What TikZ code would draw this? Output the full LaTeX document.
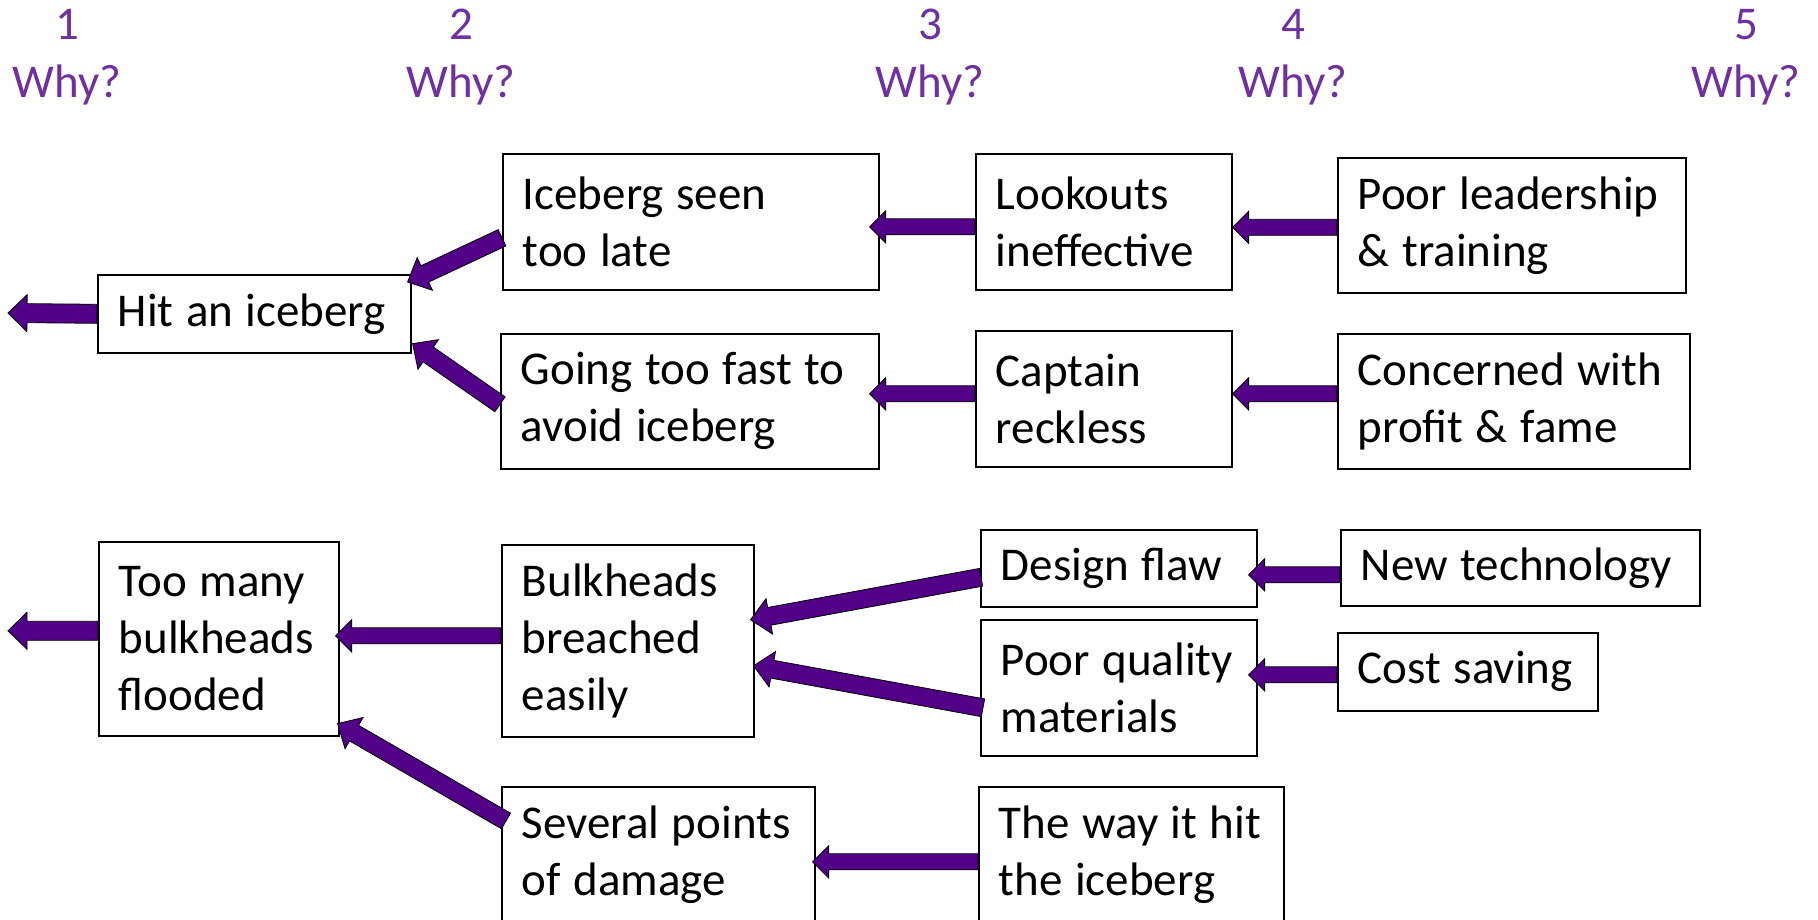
\documentclass[tikz,border=0pt]{standalone}
\usepackage{fontspec}
\setmainfont{Carlito}
\usetikzlibrary{calc}
\definecolor{whyc}{RGB}{112,48,160}
\definecolor{arrc}{RGB}{82,0,136}
% block arrow: #1 tail coord, #2 tip coord, #3 half shaft, #4 half head, #5 head length
\newcommand\blockarr[5]{%
  \coordinate (#1hb) at ($(#2)!#5!(#1)$);
  \filldraw[barr] ($(#1)!#3!90:(#2)$) -- ($(#1hb)!#3!90:(#2)$) -- ($(#1hb)!#4!90:(#2)$) -- (#2)
    -- ($(#1hb)!#4!-90:(#2)$) -- ($(#1hb)!#3!-90:(#2)$) -- ($(#1)!#3!-90:(#2)$) -- cycle;}
\newcommand\lin[1]{\mbox{\spaceskip=12.5pt\relax #1}}
\begin{document}
\begin{tikzpicture}[x=1pt,y=-1pt,
  box/.style={draw=black, line width=1.6pt, fill=white, rectangle, inner xsep=20pt, inner ysep=0pt,
    anchor=north west, align=left, font={\fontsize{47}{57}\selectfont}},
  hdr/.style={text=whyc, font=\fontsize{47}{57}\selectfont, inner sep=0pt, anchor=base},
  barr/.style={fill=arrc, draw=black, line width=0.8pt, line join=miter}]
\useasboundingbox (0,0) rectangle (1818,920);
\clip (0,0) rectangle (1818,920);
% headers
\node[hdr] (h1a) at (67,40) {1};   \node[hdr] (h1b) at (67,98) {Why?};
\node[hdr] (h2a) at (461,40) {2};  \node[hdr] (h2b) at (461,98) {Why?};
\node[hdr] (h3a) at (930,40) {3};  \node[hdr] (h3b) at (930,98) {Why?};
\node[hdr] (h4a) at (1293,40) {4}; \node[hdr] (h4b) at (1293,98) {Why?};
\node[hdr] (h5a) at (1746,40) {5}; \node[hdr] (h5b) at (1746,98) {Why?};
% boxes
\node[box, minimum width=313pt, minimum height=78pt, text width=273pt] (hit) at (97,274) {\lin{Hit an iceberg}};
\node[box, minimum width=376pt, minimum height=136pt, text width=336pt] (seen) at (502,153) {\lin{Iceberg seen}\\\lin{too late}};
\node[box, minimum width=378pt, minimum height=135pt, text width=338pt] (fast) at (500,333) {\lin{Going too fast to}\\\lin{avoid iceberg}};
\node[box, minimum width=256pt, minimum height=136pt, text width=216pt] (look) at (975,153) {\lin{Lookouts}\\\lin{ineffective}};
\node[box, minimum width=348pt, minimum height=135pt, text width=308pt] (lead) at (1337,157) {\lin{Poor leadership}\\\lin{\& training}};
\node[box, minimum width=256pt, minimum height=136pt, text width=216pt] (capt) at (975,330) {\lin{Captain}\\\lin{reckless}};
\node[box, minimum width=352pt, minimum height=135pt, text width=312pt] (conc) at (1337,333) {\lin{Concerned with}\\\lin{profit \& fame}};
\node[box, minimum width=240pt, minimum height=194pt, text width=200pt] (many) at (98,541) {\lin{Too many}\\\lin{bulkheads}\\\lin{flooded}};
\node[box, minimum width=252pt, minimum height=192pt, text width=212pt] (bulk) at (501,544) {\lin{Bulkheads}\\\lin{breached}\\\lin{easily}};
\node[box, minimum width=276pt, minimum height=77pt, text width=236pt] (desg) at (980,529) {\lin{Design flaw}};
\node[box, minimum width=276pt, minimum height=136pt, text width=236pt] (qual) at (980,619) {\lin{Poor quality}\\\lin{materials}};
\node[box, minimum width=359pt, minimum height=76pt, text width=319pt] (newt) at (1340,529) {\lin{New technology}};
\node[box, minimum width=260pt, minimum height=78pt, text width=220pt] (cost) at (1337,632) {\lin{Cost saving}};
\node[box, minimum width=313pt, minimum height=136pt, text width=273pt] (sev) at (501,786) {\lin{Several points}\\\lin{of damage}};
\node[box, minimum width=305pt, minimum height=136pt, text width=265pt] (way) at (978,786) {\lin{The way it hit}\\\lin{the iceberg}};
% arrow end points
\coordinate (t1) at (hit.west);                 \coordinate (p1) at (8,313);
\coordinate (t2) at ($(seen.west)+(0,16)$);     \coordinate (p2) at ($(hit.north east)+(-4,8)$);
\coordinate (t3) at ($(fast.west)+(0,3)$);      \coordinate (p3) at ($(hit.south east)+(1,-10)$);
\coordinate (t4) at ($(look.west)+(0,5)$);      \coordinate (p4) at ($(seen.east |- t4)+(-10,0)$);
\coordinate (t5) at ($(lead.west)+(0,2)$);      \coordinate (p5) at (look.east |- t5);
\coordinate (t6) at ($(capt.west)+(0,-5)$);     \coordinate (p6) at ($(fast.east |- t6)+(-10,0)$);
\coordinate (t7) at (conc.west |- t6);          \coordinate (p7) at (capt.east |- t7);
\coordinate (t8) at ($(many.west)+(0,-8)$);     \coordinate (p8) at (p1 |- t8);
\coordinate (t9) at ($(bulk.west)+(0,-5)$);     \coordinate (p9) at ($(many.east |- t9)+(-4,0)$);
\coordinate (t10) at ($(desg.west)+(1,9)$);     \coordinate (p10) at ($(bulk.east)+(-4,-21)$);
\coordinate (t11) at ($(qual.west)+(3,20)$);    \coordinate (p11) at ($(bulk.east)+(-1,25)$);
\coordinate (t12) at ($(newt.west)+(0,7)$);     \coordinate (p12) at ($(desg.east |- t12)+(-9,0)$);
\coordinate (t13) at ($(cost.west)+(0,3)$);     \coordinate (p13) at ($(qual.east |- t13)+(-9,0)$);
\coordinate (t14) at ($(sev.north west)+(5,35)$); \coordinate (p14) at ($(many.south east)+(-2,-13)$);
\coordinate (t15) at ($(way.west)+(0,7)$);      \coordinate (p15) at ($(sev.east |- t15)+(-3,0)$);
% arrows
\blockarr{t1}{p1}{9.5pt}{18.5pt}{19pt}
\blockarr{t2}{p2}{9pt}{18pt}{19pt}
\blockarr{t3}{p3}{9pt}{18pt}{19pt}
\blockarr{t4}{p4}{8pt}{16pt}{16pt}
\blockarr{t5}{p5}{8pt}{16pt}{16pt}
\blockarr{t6}{p6}{8pt}{16pt}{16pt}
\blockarr{t7}{p7}{8pt}{16pt}{16pt}
\blockarr{t8}{p8}{9.5pt}{18.5pt}{19pt}
\blockarr{t9}{p9}{8pt}{16pt}{16pt}
\blockarr{t10}{p10}{9pt}{18pt}{19pt}
\blockarr{t11}{p11}{9pt}{18pt}{19pt}
\blockarr{t12}{p12}{8pt}{16pt}{16pt}
\blockarr{t13}{p13}{8pt}{16pt}{16pt}
\blockarr{t14}{p14}{9pt}{18pt}{19pt}
\blockarr{t15}{p15}{8pt}{16pt}{16pt}
\end{tikzpicture}
\end{document}
